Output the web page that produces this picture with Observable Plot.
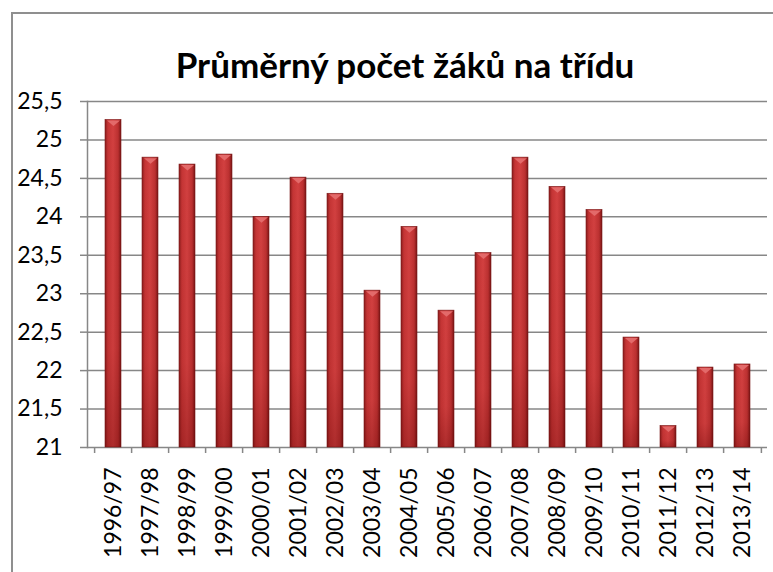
<!DOCTYPE html>
<html>
<head>
<meta charset="utf-8">
<script src="https://cdn.jsdelivr.net/npm/d3@7"></script>
<script src="https://cdn.jsdelivr.net/npm/@observablehq/plot@0.6"></script>
<style>
  html, body { margin: 0; padding: 0; background: #fff; }
  #wrap { position: relative; width: 773px; height: 572px; overflow: hidden; background: #fff; }
  #frame { position: absolute; left: 11px; top: 12px; width: 800px; height: 600px;
           border-left: 2px solid #8f8f8f; border-top: 2px solid #8f8f8f; box-sizing: border-box; }
  #title { position: absolute; left: 0; width: 810px; top: 44px; text-align: center;
           font-family: Lato, "Liberation Sans", sans-serif; font-weight: 700; font-size: 35px;
           line-height: 40px; color: #000; z-index: 2; }
  #chart { position: absolute; left: 0; top: 70px; }
</style>
</head>
<body>
<div id="wrap">
  <div id="frame"></div>
  <div id="chart"></div>
  <div id="title">Průměrný počet žáků na třídu</div>
</div>
<script>
const categories = ["1996/97","1997/98","1998/99","1999/00","2000/01","2001/02","2002/03","2003/04","2004/05","2005/06","2006/07","2007/08","2008/09","2009/10","2010/11","2011/12","2012/13","2013/14"];
const values = [25.26, 24.77, 24.68, 24.81, 24.00, 24.51, 24.30, 23.04, 23.87, 22.78, 23.53, 24.77, 24.39, 24.09, 22.43, 21.28, 22.04, 22.08];
const yTicks = [21, 21.5, 22, 22.5, 23, 23.5, 24, 24.5, 25, 25.5];

const data = categories.map((c, i) => ({cat: c, value: values[i]}));
const yBase = yTicks[0];

const flatTriangle = {
  draw(ctx, size) {
    const s = Math.sqrt(size / Math.PI) / 4;
    ctx.moveTo(-6.5 * s, 0.5);
    ctx.lineTo(6.5 * s, 0.5);
    ctx.lineTo(0, 6 * s);
    ctx.closePath();
  }
};

const step = 680 / categories.length;

const chart = Plot.plot({
  width: 773,
  height: 502,
  marginLeft: 87,
  marginRight: 6,
  marginTop: 31,
  marginBottom: 125,
  style: {fontFamily: "Lato, sans-serif", fontSize: "23px", color: "#000", background: "transparent", overflow: "visible"},
  x: {domain: categories, paddingInner: 0.58, paddingOuter: 0.29, label: null},
  y: {domain: [21, 25.5], label: null},
  marks: [
    Plot.gridY(yTicks, {stroke: "#878787", strokeOpacity: 1, strokeWidth: 1.5}),
    Plot.axisY(yTicks, {tickSize: 7, tickPadding: 18, stroke: "#878787", strokeWidth: 1.5,
      tickFormat: d => String(d).replace(".", ","), fontSize: 23, label: null}),
    Plot.frame({anchor: "left", stroke: "#878787", strokeWidth: 1.5}),
    Plot.ruleX(categories, {x: d => d, y1: yBase, y2: yBase, insetBottom: -6, dx: -step / 2, stroke: "#878787", strokeWidth: 1.5}),
    Plot.ruleX(categories.slice(-1), {x: d => d, y1: yBase, y2: yBase, insetBottom: -6, dx: step / 2, stroke: "#878787", strokeWidth: 1.5}),
    Plot.axisX({tickSize: 0, tickPadding: 20, tickRotate: -90, fontSize: 23, label: null}),
    Plot.barY(data, {x: "cat", y1: yBase, y2: "value", fill: "url(#gradH)", stroke: "#7a1818", strokeWidth: 0.6}),
    Plot.barY(data, {x: "cat", y1: yBase, y2: "value", fill: "url(#gradV)"}),
    Plot.dot(data, {x: "cat", y: "value", r: 4, symbol: flatTriangle, fill: "#e36a6a", stroke: "none"})
  ]
});

const defs = d3.create("svg:defs");
const gh = defs.append("linearGradient").attr("id", "gradH").attr("x1", "0").attr("x2", "1").attr("y1", "0").attr("y2", "0");
[["0%", "#8a1c1c"], ["18%", "#c43434"], ["50%", "#d24040"], ["82%", "#bb3030"], ["100%", "#781414"]]
  .forEach(([o, c]) => gh.append("stop").attr("offset", o).attr("stop-color", c));
const gv = defs.append("linearGradient").attr("id", "gradV").attr("x1", "0").attr("x2", "0").attr("y1", "0").attr("y2", "1");
[["0%", "#5a0000", 0], ["70%", "#5a0000", 0.05], ["100%", "#5a0000", 0.3]]
  .forEach(([o, c, a]) => gv.append("stop").attr("offset", o).attr("stop-color", c).attr("stop-opacity", a));
chart.insertBefore(defs.node(), chart.firstChild);

document.getElementById("chart").appendChild(chart);
</script>
</body>
</html>
